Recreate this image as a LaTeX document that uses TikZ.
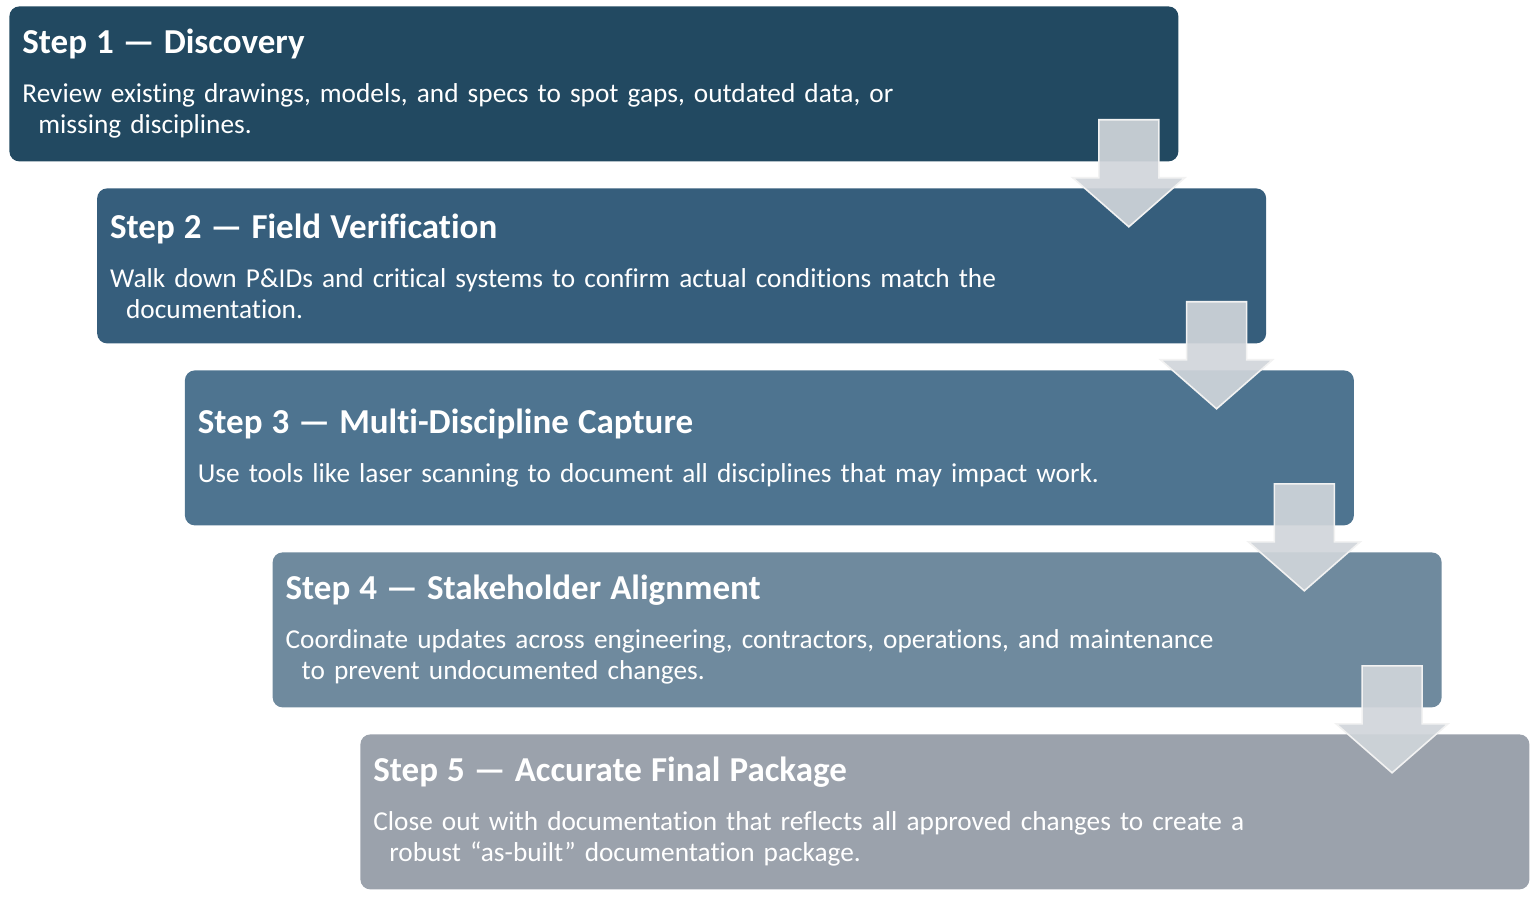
\documentclass[tikz,border=0pt]{standalone}
\usepackage{fontspec}
\setmainfont{Carlito}[Ligatures={NoCommon}]
\usetikzlibrary{calc}
\definecolor{stepA}{RGB}{34,73,97}
\definecolor{stepB}{RGB}{54,94,124}
\definecolor{stepC}{RGB}{78,116,144}
\definecolor{stepD}{RGB}{111,138,158}
\definecolor{stepE}{RGB}{155,162,172}
\definecolor{arrowgray}{RGB}{208,213,218}
\newcommand{\ttl}[1]{{\fontsize{17.5}{18}\selectfont\bfseries #1}\\[9pt]}
\newcommand{\ind}{\hspace*{8pt}}
\tikzset{
  stepbox/.style={anchor=north west,rounded corners=5pt,text width=571.5pt,inner xsep=6.5pt,inner ysep=0pt,
    minimum height=77.5pt,align=left,text=white,font=\fontsize{13.65}{15.5}\selectfont},
  flowarrow/.style={fill=arrowgray,fill opacity=0.92,draw=white!90!gray,line width=0.8pt}
}

\begin{document}
\begin{tikzpicture}[x=0.5pt,y=-0.5pt]
\useasboundingbox (0,0) rectangle (1536,898);
\node[stepbox,fill=stepA] (s1) at (9,6) {\ttl{Step 1 — Discovery}Review existing drawings, models, and specs to spot gaps, outdated data, or\\\ind missing disciplines.};
\node[stepbox,fill=stepB] (s2) at (96.75,188) {\ttl{Step 2 — Field Verification}Walk down P\&IDs and critical systems to confirm actual conditions match the\\\ind documentation.};
\node[stepbox,fill=stepC] (s3) at (184.5,370) {\ttl{Step 3 — Multi-Discipline Capture}Use tools like laser scanning to document all disciplines that may impact work.};
\node[stepbox,fill=stepD] (s4) at (272.25,552) {\ttl{Step 4 — Stakeholder Alignment}Coordinate updates across engineering, contractors, operations, and maintenance\\\ind to prevent undocumented changes.};
\node[stepbox,fill=stepE] (s5) at (360,734) {\ttl{Step 5 — Accurate Final Package}Close out with documentation that reflects all approved changes to create a\\\ind robust “as-built” documentation package.};
% block arrows between the steps
\foreach \a in {s1,s2,s3,s4}{
\path (\a.south east) ++(-50,-42) coordinate (t);
\filldraw[flowarrow] (t) ++(-30,0) -- ++(60,0) -- ++(0,58) -- ++(26,0) -- ++(-56,49) -- ++(-56,-49) -- ++(26,0) -- cycle;
}
\end{tikzpicture}
\end{document}
